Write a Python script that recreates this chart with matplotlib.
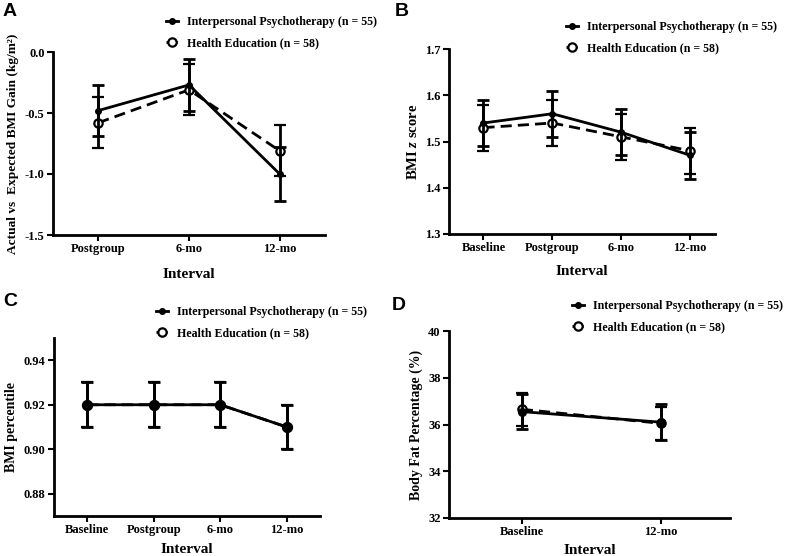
import matplotlib
matplotlib.use("Agg")
import matplotlib.pyplot as plt
from matplotlib.lines import Line2D

plt.rcParams['font.family'] = ['Liberation Serif', 'DejaVu Serif']
plt.rcParams['font.weight'] = 'bold'
plt.rcParams['mathtext.fontset'] = 'custom'
plt.rcParams['mathtext.it'] = 'Liberation Serif:italic:bold'
plt.rcParams['mathtext.rm'] = 'Liberation Serif:bold'

# ---------------- data ----------------
labels_ipt = "Interpersonal Psychotherapy (n = 55)"
labels_he = "Health Education (n = 58)"

a_cats = ["Postgroup", "6-mo", "12-mo"]
a_ipt = [-0.48, -0.27, -1.00]
a_ipt_err = [0.21, 0.21, 0.22]
a_he = [-0.58, -0.31, -0.81]
a_he_err = [0.21, 0.21, 0.21]

b_cats = ["Baseline", "Postgroup", "6-mo", "12-mo"]
b_ipt = [1.54, 1.56, 1.52, 1.47]
b_ipt_err = [0.05, 0.05, 0.05, 0.05]
b_he = [1.53, 1.54, 1.51, 1.48]
b_he_err = [0.05, 0.05, 0.05, 0.05]

c_cats = ["Baseline", "Postgroup", "6-mo", "12-mo"]
c_ipt = [0.92, 0.92, 0.92, 0.91]
c_ipt_err = [0.01, 0.01, 0.01, 0.01]
c_he = [0.92, 0.92, 0.92, 0.91]
c_he_err = [0.01, 0.01, 0.01, 0.01]

d_cats = ["Baseline", "12-mo"]
d_ipt = [36.55, 36.10]
d_ipt_err = [0.75, 0.78]
d_he = [36.65, 36.05]
d_he_err = [0.70, 0.70]

W, H = 785, 556
fig = plt.figure(figsize=(W / 100, H / 100), dpi=100)


def px_axes(l, t, r, b):
    return fig.add_axes([l / W, 1 - b / H, (r - l) / W, (b - t) / H])


def draw_panel(ax, cats, ipt, ipt_err, he, he_err, ms_ipt, ms_he, xlim, ylim, yticks,
               yfmt, ylabel, ylab_size, xpad):
    x = list(range(len(cats)))
    ax.errorbar(x, he, yerr=he_err, color='black', lw=2, ls=(0, (4, 2.2)),
                marker='o', ms=ms_he, mfc='white', mec='black', mew=1.6,
                capsize=4.5, capthick=2, elinewidth=2, zorder=2)
    ax.errorbar(x, ipt, yerr=ipt_err, color='black', lw=2, ls='-',
                marker='o', ms=ms_ipt, mfc='black', mec='black',
                capsize=4.5, capthick=2, elinewidth=2, zorder=3)
    ax.set_xlim(*xlim)
    ax.set_ylim(*ylim)
    ax.set_xticks(x)
    ax.set_xticklabels(cats, fontsize=9, fontweight='bold')
    ax.set_yticks(yticks)
    ax.set_yticklabels([yfmt.format(v) for v in yticks], fontsize=9, fontweight='bold')
    for s in ['top', 'right']:
        ax.spines[s].set_visible(False)
    for s in ['left', 'bottom']:
        ax.spines[s].set_linewidth(2)
    ax.tick_params(direction='out', length=4, width=1.5, pad=2)
    ax.set_xlabel("Interval", fontsize=11, fontweight='bold', labelpad=xpad)
    ax.set_ylabel(ylabel, fontsize=ylab_size, fontweight='bold', labelpad=4)


def legend(ax, xpx, ypx, ms_ipt, ms_he):
    h1 = Line2D([], [], color='black', lw=2, marker='o', ms=ms_ipt, mfc='black')
    h2 = Line2D([], [], color='black', lw=2, marker='o', ms=ms_he, mfc='white', mew=1.6,
                ls=(0, (4, 2.2)))
    ax.legend([h1, h2], [labels_ipt, labels_he], loc='upper left',
              bbox_to_anchor=(xpx / W, 1 - ypx / H), bbox_transform=fig.transFigure,
              frameon=False, handlelength=1.0, handletextpad=0.75, labelspacing=0.75,
              borderpad=0, borderaxespad=0, prop={'size': 8.6, 'weight': 'bold'})


# Panel A
axA = px_axes(53, 52, 325, 235)
draw_panel(axA, a_cats, a_ipt, a_ipt_err, a_he, a_he_err, 4, 6, (-0.5, 2.5), (-1.5, 0.0),
           [-1.5, -1.0, -0.5, 0.0], "{:.1f}", "Actual vs  Expected BMI Gain (kg/m²)", 9.6, 9)
legend(axA, 166, 16, 4, 6)

# Panel B
axB = px_axes(449, 49, 715, 234)
draw_panel(axB, b_cats, b_ipt, b_ipt_err, b_he, b_he_err, 4, 6, (-0.5, 3.36), (1.3, 1.7),
           [1.3, 1.4, 1.5, 1.6, 1.7], "{:.1f}", "BMI $z$ score", 10.5, 8)
legend(axB, 566, 21, 4, 6)

# Panel C
axC = px_axes(54, 338, 320, 516)
draw_panel(axC, c_cats, c_ipt, c_ipt_err, c_he, c_he_err, 6.5, 6.5, (-0.5, 3.5), (0.87, 0.95),
           [0.88, 0.90, 0.92, 0.94], "{:.2f}", "BMI percentile", 10, 4.5)
legend(axC, 156, 306, 4, 6)

# Panel D
axD = px_axes(449, 331, 730, 518)
draw_panel(axD, d_cats, d_ipt, d_ipt_err, d_he, d_he_err, 5.5, 6, (-0.525, 1.5), (32, 40),
           [32, 34, 36, 38, 40], "{:d}", "Body Fat Percentage (%)", 10, 4)
legend(axD, 572, 300, 4, 6)

for lab, xp, yp in [("A", 3, 3), ("B", 395, 3), ("C", 3, 293), ("D", 392, 297)]:
    fig.text(xp / W, 1 - yp / H, lab, fontsize=14, fontweight='bold',
             family=['Liberation Sans', 'DejaVu Sans'], ha='left', va='top')

fig.savefig("out.png", dpi=100)
